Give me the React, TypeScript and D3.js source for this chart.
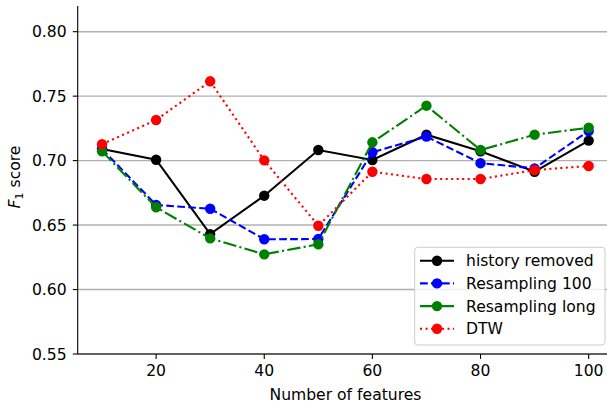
import React from "react";
import * as d3 from "d3";

const features = [10, 20, 30, 40, 50, 60, 70, 80, 90, 100];
const historyRemoved = [0.709, 0.7007, 0.643, 0.6728, 0.7082, 0.7005, 0.7201, 0.7072, 0.6914, 0.7155];
const resampling100 = [0.709, 0.6656, 0.6627, 0.639, 0.6392, 0.7065, 0.7186, 0.698, 0.694, 0.723];
const resamplingLong = [0.7072, 0.6638, 0.6397, 0.6273, 0.6351, 0.7142, 0.7426, 0.7082, 0.7201, 0.7255];
const dtw = [0.7127, 0.7315, 0.7615, 0.7002, 0.6495, 0.6914, 0.6857, 0.6857, 0.6927, 0.6958];
const yTicks = [0.55, 0.6, 0.65, 0.7, 0.75, 0.8];
const xTicks = [20, 40, 60, 80, 100];

const seriesNames = ["history removed", "Resampling 100", "Resampling long", "DTW"];
const seriesValues = [historyRemoved, resampling100, resamplingLong, dtw];
const seriesColors = ["#000000", "#0000ff", "#008000", "#ff0000"];
const seriesDash = ["", "7.7,3.3", "13.3,3.3,2.1,3.3", "2.1,3.4"];

const W = 607;
const H = 406;
const left = 77.7;
const right = 613;
const top = 5.9;
const bottom = 354;
const font = "'DejaVu Sans', sans-serif";
const fs = 15.6;

export default function App() {
  const x = d3.scaleLinear().domain([5.5, 104.5]).range([left, right]);
  const y = d3.scaleLinear().domain([0.55, 0.82]).range([bottom, top]);
  const line = d3
    .line<number>()
    .x((_, i) => x(features[i]))
    .y((d) => y(d));

  const lgX = 414.7;
  const lgY = 247.3;
  const lgW = 190.3;
  const lgH = 97.7;
  const rowY = [260.7, 283.4, 306.1, 328.8];

  return (
    <svg
      width={W}
      height={H}
      style={{ position: "absolute", left: 0, top: 0, background: "#fff" }}
      fontFamily={font}
    >
      <rect x={0} y={0} width={W} height={H} fill="#fff" />
      {yTicks.map((t) => (
        <line
          key={"g" + t}
          x1={left}
          x2={right}
          y1={y(t)}
          y2={y(t)}
          stroke="#b0b0b0"
          strokeWidth={1.4}
        />
      ))}
      {seriesValues.map((vals, si) => (
        <g key={"s" + si}>
          <path
            d={line(vals) || ""}
            fill="none"
            stroke={seriesColors[si]}
            strokeWidth={2.1}
            strokeDasharray={seriesDash[si] || undefined}
          />
          {vals.map((v, i) => (
            <circle key={i} cx={x(features[i])} cy={y(v)} r={5.2} fill={seriesColors[si]} />
          ))}
        </g>
      ))}
      <line x1={left} x2={left} y1={top} y2={bottom} stroke="#000" strokeWidth={1.1} />
      <line x1={left} x2={right} y1={bottom} y2={bottom} stroke="#000" strokeWidth={1.1} />
      {yTicks.map((t) => (
        <g key={"yt" + t}>
          <line x1={left - 4.9} x2={left} y1={y(t)} y2={y(t)} stroke="#000" strokeWidth={1.1} />
          <text x={left - 11} y={y(t)} dy="0.36em" textAnchor="end" fontSize={fs} fill="#000">
            {t.toFixed(2)}
          </text>
        </g>
      ))}
      {xTicks.map((t) => (
        <g key={"xt" + t}>
          <line x1={x(t)} x2={x(t)} y1={bottom} y2={bottom + 4.9} stroke="#000" strokeWidth={1.1} />
          <text x={x(t)} y={bottom + 22} textAnchor="middle" fontSize={fs} fill="#000">
            {t}
          </text>
        </g>
      ))}
      <text x={345.5} y={399.5} textAnchor="middle" fontSize={fs} fill="#000">
        Number of features
      </text>
      <text
        transform={`translate(20, 177) rotate(-90)`}
        textAnchor="middle"
        fontSize={fs}
        fill="#000"
      >
        <tspan fontStyle="italic">F</tspan>
        <tspan fontSize={fs * 0.7} dy="3">1</tspan>
        <tspan dy="-3"> score</tspan>
      </text>
      <rect
        x={lgX}
        y={lgY}
        width={lgW}
        height={lgH}
        rx={3}
        fill="#fff"
        fillOpacity={0.8}
        stroke="#cccccc"
        strokeWidth={1}
      />
      {seriesNames.map((name, i) => (
        <g key={"lg" + i}>
          <line
            x1={420}
            x2={454}
            y1={rowY[i]}
            y2={rowY[i]}
            stroke={seriesColors[i]}
            strokeWidth={2.1}
            strokeDasharray={seriesDash[i] || undefined}
          />
          <circle cx={437} cy={rowY[i]} r={5.2} fill={seriesColors[i]} />
          <text x={466} y={rowY[i]} dy="0.36em" fontSize={fs} fill="#000">
            {name}
          </text>
        </g>
      ))}
    </svg>
  );
}
